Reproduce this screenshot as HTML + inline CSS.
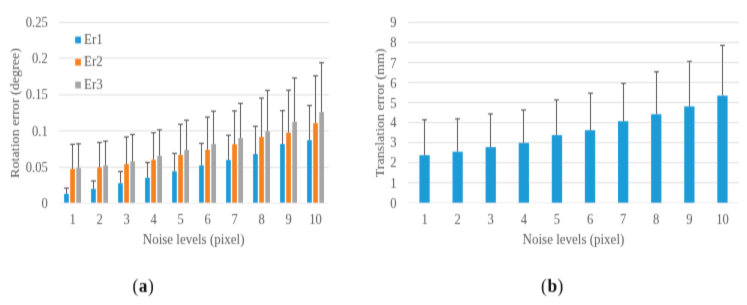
<!DOCTYPE html>
<html><head><meta charset="utf-8"><style>
html,body{margin:0;padding:0;background:#fff;}
svg{display:block;font-family:"Liberation Serif",serif;}
</style></head><body>
<svg width="747" height="305" viewBox="0 0 747 305">
<defs><filter id="bl" x="0" y="0" width="1" height="1"><feConvolveMatrix order="3" kernelMatrix="0.0160 0.1680 0.0160 0.0480 0.5040 0.0480 0.0160 0.1680 0.0160" edgeMode="duplicate" preserveAlpha="false"/></filter></defs>
<rect width="747" height="305" fill="#fff"/>
<g filter="url(#bl)">
<rect x="59.00" y="202.60" width="269.80" height="1.00" fill="#EAEAEA"/>
<text transform="translate(47.80,208.20) scale(1,1.08)" text-anchor="end" font-size="12.6" fill="#595959" >0</text>
<rect x="59.00" y="166.80" width="269.80" height="1.00" fill="#DCDCDC"/>
<text transform="translate(47.80,172.10) scale(1,1.08)" text-anchor="end" font-size="12.6" fill="#595959" >0.05</text>
<rect x="59.00" y="130.40" width="269.80" height="1.00" fill="#DCDCDC"/>
<text transform="translate(47.80,135.55) scale(1,1.08)" text-anchor="end" font-size="12.6" fill="#595959" >0.1</text>
<rect x="59.00" y="94.40" width="269.80" height="1.00" fill="#DCDCDC"/>
<text transform="translate(47.80,98.80) scale(1,1.08)" text-anchor="end" font-size="12.6" fill="#595959" >0.15</text>
<rect x="59.00" y="57.60" width="269.80" height="1.00" fill="#DCDCDC"/>
<text transform="translate(47.80,62.95) scale(1,1.08)" text-anchor="end" font-size="12.6" fill="#595959" >0.2</text>
<rect x="59.00" y="21.90" width="269.80" height="1.00" fill="#DCDCDC"/>
<text transform="translate(47.80,26.55) scale(1,1.08)" text-anchor="end" font-size="12.6" fill="#595959" >0.25</text>
<rect x="64.10" y="193.90" width="4.70" height="8.90" fill="#1F9BD7"/>
<rect x="70.20" y="168.90" width="4.70" height="33.90" fill="#F5821F"/>
<rect x="76.30" y="168.10" width="4.70" height="34.70" fill="#A5A5A5"/>
<rect x="66.00" y="188.10" width="1.00" height="5.80" fill="#555555"/>
<rect x="64.00" y="187.50" width="5.00" height="1.20" fill="#555555"/>
<rect x="72.00" y="144.40" width="1.00" height="24.50" fill="#555555"/>
<rect x="70.00" y="143.80" width="5.00" height="1.20" fill="#555555"/>
<rect x="78.00" y="143.80" width="1.00" height="24.30" fill="#555555"/>
<rect x="76.00" y="143.20" width="5.00" height="1.20" fill="#555555"/>
<text transform="translate(72.55,224.30) scale(1,1.08)" text-anchor="middle" font-size="12.6" fill="#595959" >1</text>
<rect x="91.10" y="188.90" width="4.70" height="13.90" fill="#1F9BD7"/>
<rect x="97.20" y="167.40" width="4.70" height="35.40" fill="#F5821F"/>
<rect x="103.30" y="165.40" width="4.70" height="37.40" fill="#A5A5A5"/>
<rect x="93.00" y="180.90" width="1.00" height="8.00" fill="#555555"/>
<rect x="91.00" y="180.30" width="5.00" height="1.20" fill="#555555"/>
<rect x="99.00" y="142.50" width="1.00" height="24.90" fill="#555555"/>
<rect x="97.00" y="141.90" width="5.00" height="1.20" fill="#555555"/>
<rect x="105.00" y="141.20" width="1.00" height="24.20" fill="#555555"/>
<rect x="103.00" y="140.60" width="5.00" height="1.20" fill="#555555"/>
<text transform="translate(99.55,224.30) scale(1,1.08)" text-anchor="middle" font-size="12.6" fill="#595959" >2</text>
<rect x="118.10" y="183.20" width="4.70" height="19.60" fill="#1F9BD7"/>
<rect x="124.20" y="164.10" width="4.70" height="38.70" fill="#F5821F"/>
<rect x="130.30" y="161.30" width="4.70" height="41.50" fill="#A5A5A5"/>
<rect x="120.00" y="171.50" width="1.00" height="11.70" fill="#555555"/>
<rect x="118.00" y="170.90" width="5.00" height="1.20" fill="#555555"/>
<rect x="126.00" y="137.00" width="1.00" height="27.10" fill="#555555"/>
<rect x="124.00" y="136.40" width="5.00" height="1.20" fill="#555555"/>
<rect x="132.00" y="134.50" width="1.00" height="26.80" fill="#555555"/>
<rect x="130.00" y="133.90" width="5.00" height="1.20" fill="#555555"/>
<text transform="translate(126.55,224.30) scale(1,1.08)" text-anchor="middle" font-size="12.6" fill="#595959" >3</text>
<rect x="145.10" y="177.70" width="4.70" height="25.10" fill="#1F9BD7"/>
<rect x="151.20" y="159.80" width="4.70" height="43.00" fill="#F5821F"/>
<rect x="157.30" y="155.80" width="4.70" height="47.00" fill="#A5A5A5"/>
<rect x="147.00" y="162.50" width="1.00" height="15.20" fill="#555555"/>
<rect x="145.00" y="161.90" width="5.00" height="1.20" fill="#555555"/>
<rect x="153.00" y="132.70" width="1.00" height="27.10" fill="#555555"/>
<rect x="151.00" y="132.10" width="5.00" height="1.20" fill="#555555"/>
<rect x="159.00" y="129.80" width="1.00" height="26.00" fill="#555555"/>
<rect x="157.00" y="129.20" width="5.00" height="1.20" fill="#555555"/>
<text transform="translate(153.55,224.30) scale(1,1.08)" text-anchor="middle" font-size="12.6" fill="#595959" >4</text>
<rect x="172.10" y="171.30" width="4.70" height="31.50" fill="#1F9BD7"/>
<rect x="178.20" y="154.90" width="4.70" height="47.90" fill="#F5821F"/>
<rect x="184.30" y="149.90" width="4.70" height="52.90" fill="#A5A5A5"/>
<rect x="174.00" y="153.40" width="1.00" height="17.90" fill="#555555"/>
<rect x="172.00" y="152.80" width="5.00" height="1.20" fill="#555555"/>
<rect x="180.00" y="124.30" width="1.00" height="30.60" fill="#555555"/>
<rect x="178.00" y="123.70" width="5.00" height="1.20" fill="#555555"/>
<rect x="186.00" y="120.20" width="1.00" height="29.70" fill="#555555"/>
<rect x="184.00" y="119.60" width="5.00" height="1.20" fill="#555555"/>
<text transform="translate(180.55,224.30) scale(1,1.08)" text-anchor="middle" font-size="12.6" fill="#595959" >5</text>
<rect x="199.10" y="165.40" width="4.70" height="37.40" fill="#1F9BD7"/>
<rect x="205.20" y="149.80" width="4.70" height="53.00" fill="#F5821F"/>
<rect x="211.30" y="144.00" width="4.70" height="58.80" fill="#A5A5A5"/>
<rect x="201.00" y="143.40" width="1.00" height="22.00" fill="#555555"/>
<rect x="199.00" y="142.80" width="5.00" height="1.20" fill="#555555"/>
<rect x="207.00" y="117.10" width="1.00" height="32.70" fill="#555555"/>
<rect x="205.00" y="116.50" width="5.00" height="1.20" fill="#555555"/>
<rect x="213.00" y="111.20" width="1.00" height="32.80" fill="#555555"/>
<rect x="211.00" y="110.60" width="5.00" height="1.20" fill="#555555"/>
<text transform="translate(207.55,224.30) scale(1,1.08)" text-anchor="middle" font-size="12.6" fill="#595959" >6</text>
<rect x="226.10" y="159.90" width="4.70" height="42.90" fill="#1F9BD7"/>
<rect x="232.20" y="144.20" width="4.70" height="58.60" fill="#F5821F"/>
<rect x="238.30" y="138.10" width="4.70" height="64.70" fill="#A5A5A5"/>
<rect x="228.00" y="135.30" width="1.00" height="24.60" fill="#555555"/>
<rect x="226.00" y="134.70" width="5.00" height="1.20" fill="#555555"/>
<rect x="234.00" y="110.90" width="1.00" height="33.30" fill="#555555"/>
<rect x="232.00" y="110.30" width="5.00" height="1.20" fill="#555555"/>
<rect x="240.00" y="103.40" width="1.00" height="34.70" fill="#555555"/>
<rect x="238.00" y="102.80" width="5.00" height="1.20" fill="#555555"/>
<text transform="translate(234.55,224.30) scale(1,1.08)" text-anchor="middle" font-size="12.6" fill="#595959" >7</text>
<rect x="253.10" y="154.00" width="4.70" height="48.80" fill="#1F9BD7"/>
<rect x="259.20" y="137.00" width="4.70" height="65.80" fill="#F5821F"/>
<rect x="265.30" y="131.30" width="4.70" height="71.50" fill="#A5A5A5"/>
<rect x="255.00" y="126.30" width="1.00" height="27.70" fill="#555555"/>
<rect x="253.00" y="125.70" width="5.00" height="1.20" fill="#555555"/>
<rect x="261.00" y="98.10" width="1.00" height="38.90" fill="#555555"/>
<rect x="259.00" y="97.50" width="5.00" height="1.20" fill="#555555"/>
<rect x="267.00" y="90.40" width="1.00" height="40.90" fill="#555555"/>
<rect x="265.00" y="89.80" width="5.00" height="1.20" fill="#555555"/>
<text transform="translate(261.55,224.30) scale(1,1.08)" text-anchor="middle" font-size="12.6" fill="#595959" >8</text>
<rect x="280.10" y="144.00" width="4.70" height="58.80" fill="#1F9BD7"/>
<rect x="286.20" y="132.60" width="4.70" height="70.20" fill="#F5821F"/>
<rect x="292.30" y="121.70" width="4.70" height="81.10" fill="#A5A5A5"/>
<rect x="282.00" y="110.60" width="1.00" height="33.40" fill="#555555"/>
<rect x="280.00" y="110.00" width="5.00" height="1.20" fill="#555555"/>
<rect x="288.00" y="90.20" width="1.00" height="42.40" fill="#555555"/>
<rect x="286.00" y="89.60" width="5.00" height="1.20" fill="#555555"/>
<rect x="294.00" y="78.00" width="1.00" height="43.70" fill="#555555"/>
<rect x="292.00" y="77.40" width="5.00" height="1.20" fill="#555555"/>
<text transform="translate(288.55,224.30) scale(1,1.08)" text-anchor="middle" font-size="12.6" fill="#595959" >9</text>
<rect x="307.10" y="140.20" width="4.70" height="62.60" fill="#1F9BD7"/>
<rect x="313.20" y="123.20" width="4.70" height="79.60" fill="#F5821F"/>
<rect x="319.30" y="112.00" width="4.70" height="90.80" fill="#A5A5A5"/>
<rect x="309.00" y="105.50" width="1.00" height="34.70" fill="#555555"/>
<rect x="307.00" y="104.90" width="5.00" height="1.20" fill="#555555"/>
<rect x="315.00" y="75.80" width="1.00" height="47.40" fill="#555555"/>
<rect x="313.00" y="75.20" width="5.00" height="1.20" fill="#555555"/>
<rect x="321.00" y="62.70" width="1.00" height="49.30" fill="#555555"/>
<rect x="319.00" y="62.10" width="5.00" height="1.20" fill="#555555"/>
<text transform="translate(315.55,224.30) scale(1,1.08)" text-anchor="middle" font-size="12.6" fill="#595959" >10</text>
<text transform="translate(193.65,243.50) scale(1,1.068)" text-anchor="middle" font-size="13" fill="#595959" >Noise levels (pixel)</text>
<text transform="translate(18.90,112.90) scale(1,1.045) rotate(-90)" text-anchor="middle" font-size="13.5" fill="#595959" >Rotation error (degree)</text>
<rect x="75.20" y="36.60" width="5.70" height="6.80" fill="#1F9BD7"/>
<text transform="translate(84.10,43.80) scale(1,1.05)" text-anchor="start" font-size="13" fill="#595959" >Er1</text>
<rect x="75.20" y="58.80" width="5.70" height="6.80" fill="#F5821F"/>
<text transform="translate(84.10,66.30) scale(1,1.05)" text-anchor="start" font-size="13" fill="#595959" >Er2</text>
<rect x="75.20" y="81.60" width="5.70" height="6.80" fill="#A5A5A5"/>
<text transform="translate(84.10,88.80) scale(1,1.05)" text-anchor="start" font-size="13" fill="#595959" >Er3</text>
<rect x="408.00" y="202.30" width="330.70" height="1.00" fill="#EAEAEA"/>
<text transform="translate(396.60,208.20) scale(1,1.08)" text-anchor="end" font-size="12.6" fill="#595959" >0</text>
<rect x="408.00" y="182.25" width="330.70" height="1.00" fill="#DCDCDC"/>
<text transform="translate(396.60,187.70) scale(1,1.08)" text-anchor="end" font-size="12.6" fill="#595959" >1</text>
<rect x="408.00" y="162.20" width="330.70" height="1.00" fill="#DCDCDC"/>
<text transform="translate(396.60,167.05) scale(1,1.08)" text-anchor="end" font-size="12.6" fill="#595959" >2</text>
<rect x="408.00" y="142.15" width="330.70" height="1.00" fill="#DCDCDC"/>
<text transform="translate(396.60,147.40) scale(1,1.08)" text-anchor="end" font-size="12.6" fill="#595959" >3</text>
<rect x="408.00" y="122.10" width="330.70" height="1.00" fill="#DCDCDC"/>
<text transform="translate(396.60,127.00) scale(1,1.08)" text-anchor="end" font-size="12.6" fill="#595959" >4</text>
<rect x="408.00" y="102.05" width="330.70" height="1.00" fill="#DCDCDC"/>
<text transform="translate(396.60,107.60) scale(1,1.08)" text-anchor="end" font-size="12.6" fill="#595959" >5</text>
<rect x="408.00" y="82.00" width="330.70" height="1.00" fill="#DCDCDC"/>
<text transform="translate(396.60,87.75) scale(1,1.08)" text-anchor="end" font-size="12.6" fill="#595959" >6</text>
<rect x="408.00" y="61.95" width="330.70" height="1.00" fill="#DCDCDC"/>
<text transform="translate(396.60,67.55) scale(1,1.08)" text-anchor="end" font-size="12.6" fill="#595959" >7</text>
<rect x="408.00" y="41.90" width="330.70" height="1.00" fill="#DCDCDC"/>
<text transform="translate(396.60,47.20) scale(1,1.08)" text-anchor="end" font-size="12.6" fill="#595959" >8</text>
<rect x="408.00" y="21.85" width="330.70" height="1.00" fill="#DCDCDC"/>
<text transform="translate(396.60,26.85) scale(1,1.08)" text-anchor="end" font-size="12.6" fill="#595959" >9</text>
<rect x="419.40" y="155.20" width="10.30" height="47.60" fill="#1F9BD7"/>
<rect x="424.00" y="119.80" width="1.00" height="35.40" fill="#555555"/>
<rect x="422.00" y="119.20" width="5.00" height="1.20" fill="#555555"/>
<text transform="translate(424.55,224.30) scale(1,1.08)" text-anchor="middle" font-size="12.6" fill="#595959" >1</text>
<rect x="452.50" y="151.70" width="10.30" height="51.10" fill="#1F9BD7"/>
<rect x="457.00" y="118.90" width="1.00" height="32.80" fill="#555555"/>
<rect x="455.00" y="118.30" width="5.00" height="1.20" fill="#555555"/>
<text transform="translate(457.65,224.30) scale(1,1.08)" text-anchor="middle" font-size="12.6" fill="#595959" >2</text>
<rect x="485.60" y="147.10" width="10.30" height="55.70" fill="#1F9BD7"/>
<rect x="490.00" y="113.90" width="1.00" height="33.20" fill="#555555"/>
<rect x="488.00" y="113.30" width="5.00" height="1.20" fill="#555555"/>
<text transform="translate(490.75,224.30) scale(1,1.08)" text-anchor="middle" font-size="12.6" fill="#595959" >3</text>
<rect x="518.70" y="142.80" width="10.30" height="60.00" fill="#1F9BD7"/>
<rect x="523.00" y="110.00" width="1.00" height="32.80" fill="#555555"/>
<rect x="521.00" y="109.40" width="5.00" height="1.20" fill="#555555"/>
<text transform="translate(523.85,224.30) scale(1,1.08)" text-anchor="middle" font-size="12.6" fill="#595959" >4</text>
<rect x="551.80" y="135.10" width="10.30" height="67.70" fill="#1F9BD7"/>
<rect x="556.00" y="99.90" width="1.00" height="35.20" fill="#555555"/>
<rect x="554.00" y="99.30" width="5.00" height="1.20" fill="#555555"/>
<text transform="translate(556.95,224.30) scale(1,1.08)" text-anchor="middle" font-size="12.6" fill="#595959" >5</text>
<rect x="584.90" y="130.20" width="10.30" height="72.60" fill="#1F9BD7"/>
<rect x="590.00" y="93.20" width="1.00" height="37.00" fill="#555555"/>
<rect x="588.00" y="92.60" width="5.00" height="1.20" fill="#555555"/>
<text transform="translate(590.05,224.30) scale(1,1.08)" text-anchor="middle" font-size="12.6" fill="#595959" >6</text>
<rect x="618.00" y="121.20" width="10.30" height="81.60" fill="#1F9BD7"/>
<rect x="623.00" y="83.40" width="1.00" height="37.80" fill="#555555"/>
<rect x="621.00" y="82.80" width="5.00" height="1.20" fill="#555555"/>
<text transform="translate(623.15,224.30) scale(1,1.08)" text-anchor="middle" font-size="12.6" fill="#595959" >7</text>
<rect x="651.10" y="114.20" width="10.30" height="88.60" fill="#1F9BD7"/>
<rect x="656.00" y="71.80" width="1.00" height="42.40" fill="#555555"/>
<rect x="654.00" y="71.20" width="5.00" height="1.20" fill="#555555"/>
<text transform="translate(656.25,224.30) scale(1,1.08)" text-anchor="middle" font-size="12.6" fill="#595959" >8</text>
<rect x="684.20" y="106.40" width="10.30" height="96.40" fill="#1F9BD7"/>
<rect x="689.00" y="61.40" width="1.00" height="45.00" fill="#555555"/>
<rect x="687.00" y="60.80" width="5.00" height="1.20" fill="#555555"/>
<text transform="translate(689.35,224.30) scale(1,1.08)" text-anchor="middle" font-size="12.6" fill="#595959" >9</text>
<rect x="717.30" y="95.60" width="10.30" height="107.20" fill="#1F9BD7"/>
<rect x="722.00" y="45.40" width="1.00" height="50.20" fill="#555555"/>
<rect x="720.00" y="44.80" width="5.00" height="1.20" fill="#555555"/>
<text transform="translate(722.45,224.30) scale(1,1.08)" text-anchor="middle" font-size="12.6" fill="#595959" >10</text>
<text transform="translate(573.45,243.60) scale(1,1.068)" text-anchor="middle" font-size="13" fill="#595959" >Noise levels (pixel)</text>
<text transform="translate(384.00,112.90) scale(1,1.04) rotate(-90)" text-anchor="middle" font-size="13.5" fill="#595959" >Translation error (mm)</text>
<text transform="translate(143.45,292.3) scale(1,1.07)" text-anchor="middle" font-size="17.4" letter-spacing="0.5" fill="#111">(<tspan font-weight="bold">a</tspan>)</text>
<text transform="translate(552.50,292.3) scale(1,1.07)" text-anchor="middle" font-size="17.4" letter-spacing="0.5" fill="#111">(<tspan font-weight="bold">b</tspan>)</text>
</g>
</svg>
</body></html>
